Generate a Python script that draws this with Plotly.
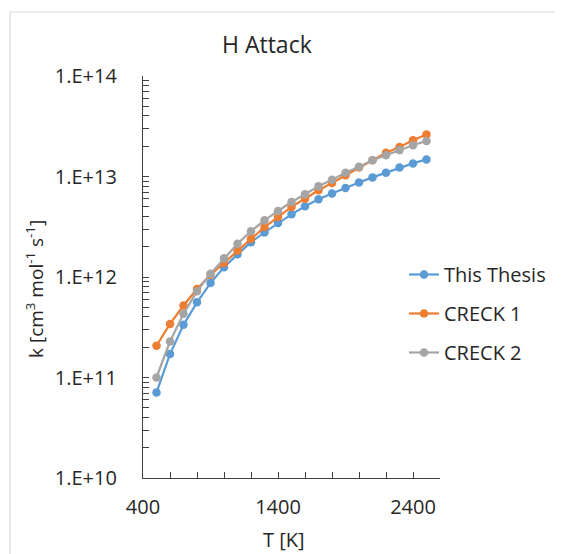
import plotly.graph_objects as go

T = [500, 600, 700, 800, 900, 1000, 1100, 1200, 1300, 1400, 1500,
     1600, 1700, 1800, 1900, 2000, 2100, 2200, 2300, 2400, 2500]

this_thesis = [7.1e10, 1.71e11, 3.34e11, 5.6e11, 8.7e11, 1.25e12, 1.68e12, 2.22e12,
               2.78e12, 3.44e12, 4.2e12, 5.05e12, 5.93e12, 6.76e12, 7.7e12, 8.7e12,
               9.8e12, 1.09e13, 1.23e13, 1.35e13, 1.48e13]
creck1 = [2.07e11, 3.41e11, 5.2e11, 7.6e11, 1.05e12, 1.38e12, 1.84e12, 2.4e12,
          3.14e12, 3.95e12, 4.98e12, 6.0e12, 7.3e12, 8.6e12, 1.03e13, 1.23e13,
          1.45e13, 1.72e13, 1.97e13, 2.3e13, 2.62e13]
creck2 = [1.0e11, 2.28e11, 4.3e11, 7.2e11, 1.08e12, 1.54e12, 2.14e12, 2.86e12,
          3.66e12, 4.54e12, 5.57e12, 6.65e12, 8.0e12, 9.3e12, 1.09e13, 1.25e13,
          1.45e13, 1.63e13, 1.83e13, 2.05e13, 2.26e13]

series_names = ["This Thesis", "CRECK 1", "CRECK 2"]
colors = ["#5B9BD5", "#ED7D31", "#A5A5A5"]

x_major = [400, 1400, 2400]
x_ticks = list(range(400, 2601, 200))
y_decades = [1e10, 1e11, 1e12, 1e13, 1e14]
y_labels = ["1.E+10", "1.E+11", "1.E+12", "1.E+13", "1.E+14"]

y_ticks = []
for d in y_decades:
    for m in range(1, 10):
        v = d * m
        if v <= 1e14 * 1.0001:
            y_ticks.append(v)
y_text = [y_labels[y_decades.index(v)] if v in y_decades else "" for v in y_ticks]
x_text = [str(v) if v in x_major else "" for v in x_ticks]

FONT = "Open Sans"
fig = go.Figure()
for name, vals, c in zip(series_names, [this_thesis, creck1, creck2], colors):
    fig.add_trace(go.Scatter(x=T, y=vals, name=name, mode="lines+markers",
                             line=dict(color=c, width=2.2),
                             marker=dict(color=c, size=8.5),
                             legendgroup=name))

# the page body has an 8px margin: work in reference pixels minus 8
OFF = 8
W, H = 563 - OFF, 554 - OFF
L, R, TOP, BOT = 143 - OFF, 440 - OFF, 76 - OFF, 478 - OFF
pw, ph = R - L, BOT - TOP

def px(xp):
    return (xp - OFF - L) / pw

def py(yp):
    return (BOT - (yp - OFF)) / ph

fig.update_layout(
    width=W, height=H,
    margin=dict(l=L, r=W - R, t=TOP, b=H - BOT),
    paper_bgcolor="white", plot_bgcolor="white",
    font=dict(family=FONT, color="#404040"),
    showlegend=True,
    legend=dict(x=px(404), y=py(255), xanchor="left", yanchor="top",
                font=dict(size=20, color="#262626", family=FONT),
                tracegroupgap=10, bgcolor="rgba(0,0,0,0)"),
    xaxis=dict(range=[400, 2600], tickvals=x_ticks, ticktext=x_text,
               ticks="inside", ticklen=6, tickcolor="#404040",
               showline=True, linecolor="#404040", linewidth=1.3,
               showgrid=False, zeroline=False,
               tickfont=dict(size=20, color="#262626"), ticklabelstandoff=11),
    yaxis=dict(type="log", range=[10, 14], tickvals=y_ticks, ticktext=y_text,
               ticks="inside", ticklen=6, tickcolor="#404040",
               showline=True, linecolor="#404040", linewidth=1.3,
               showgrid=False, zeroline=False,
               tickfont=dict(size=20, color="#262626"), ticklabelstandoff=21),
    shapes=[dict(type="rect", xref="paper", yref="paper",
                 x0=px(10), x1=px(700), y0=py(800), y1=py(12),
                 line=dict(color="#D9D9D9", width=1.2), layer="below")],
    annotations=[
        dict(text="H Attack", x=px(267), y=py(44), xref="paper", yref="paper",
             showarrow=False, font=dict(size=23, color="#262626"),
             xanchor="center", yanchor="middle"),
        dict(text="T [K]", x=px(284), y=py(539), xref="paper", yref="paper",
             showarrow=False, font=dict(size=20, color="#262626"),
             xanchor="center", yanchor="middle"),
        dict(text="k [cm<sup>3</sup> mol<sup>-1</sup> s<sup>-1</sup>]", x=px(35), y=py(289),
             xref="paper", yref="paper", textangle=-90,
             showarrow=False, font=dict(size=19, color="#262626"),
             xanchor="center", yanchor="middle"),
    ],
)

fig.write_html("out.html")
